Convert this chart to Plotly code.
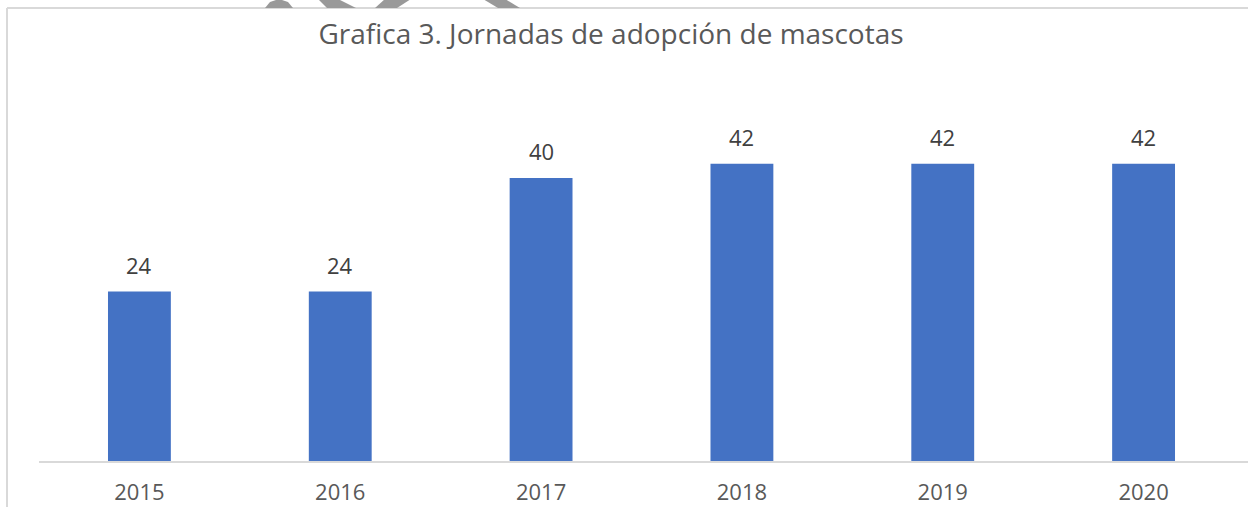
import plotly.graph_objects as go

years = ["2015", "2016", "2017", "2018", "2019", "2020"]
jornadas = [24, 24, 40, 42, 42, 42]
title_text = "Grafica 3. Jornadas de adopción de mascotas"

W, H = 1248, 507
L, R, T, B = 39, 4, 107, 45
pw, ph = W - L - R, H - T - B
FONT = "Open Sans, Liberation Sans, sans-serif"

def px(x):
    return (x - L) / pw

def py(y):
    return (H - B - y) / ph

fig = go.Figure(go.Bar(
    x=years, y=jornadas,
    marker=dict(color="#4472C4", line=dict(width=0)),
    width=0.313,
    hoverinfo="x+y",
))

# data labels: category index i corresponds to years[i]
annotations = [
    dict(x=i, y=v, xref="x", yref="y", text=str(v), showarrow=False,
         yanchor="middle", yshift=27,
         font=dict(size=22, color="#404040", family=FONT))
    for i, v in enumerate(jornadas)
]

shapes = []
# chart frame (top and left)
shapes.append(dict(type="line", xref="paper", yref="paper",
                   x0=px(7), y0=py(8), x1=px(W + 5), y1=py(8),
                   line=dict(color="#D9D9D9", width=2)))
shapes.append(dict(type="line", xref="paper", yref="paper",
                   x0=px(7), y0=py(8), x1=px(7), y1=py(H + 5),
                   line=dict(color="#D9D9D9", width=2)))
# axis baseline
shapes.append(dict(type="line", xref="paper", yref="paper",
                   x0=px(39), y0=0, x1=px(W + 5), y1=0,
                   line=dict(color="#D9D9D9", width=2)))

# watermark fragments at top
def poly(pts):
    d = "M " + " L ".join(f"{px(a):.5f},{py(b):.5f}" for a, b in pts) + " Z"
    return dict(type="path", xref="paper", yref="paper", path=d,
                fillcolor="#999999", line=dict(width=0), layer="above")

shapes.append(poly([(265, 8), (270, 2), (279, -1), (288, 2), (293, 8)]))
shapes.append(poly([(318, -1), (338, -1), (356, 8), (327, 8)]))
shapes.append(poly([(385, -1), (411, -1), (397, 8), (375, 8)]))
shapes.append(poly([(483, -1), (505, -1), (520, 8), (498, 8)]))

fig.update_layout(
    width=W, height=H,
    margin=dict(l=L, r=R, t=T, b=B, autoexpand=False),
    paper_bgcolor="white", plot_bgcolor="white",
    showlegend=False,
    title=dict(text=title_text, xref="container", x=611 / W, xanchor="center",
               yref="container", y=1 - 34 / H, yanchor="middle",
               font=dict(size=28, color="#595959", family=FONT)),
    xaxis=dict(type="category", range=[-0.5, len(years) - 0.5], automargin=False,
               showgrid=False, showline=False, ticks="", zeroline=False,
               tickfont=dict(size=22, color="#595959", family=FONT),
               ticklabelstandoff=15),
    yaxis=dict(range=[0, 50], visible=False, showgrid=False, zeroline=False,
               automargin=False),
    shapes=shapes,
    annotations=annotations,
    bargap=0.687,
)

fig.write_html("out.html", config={"displayModeBar": False},
               post_script="document.body.style.margin='0';document.body.style.padding='0';")
